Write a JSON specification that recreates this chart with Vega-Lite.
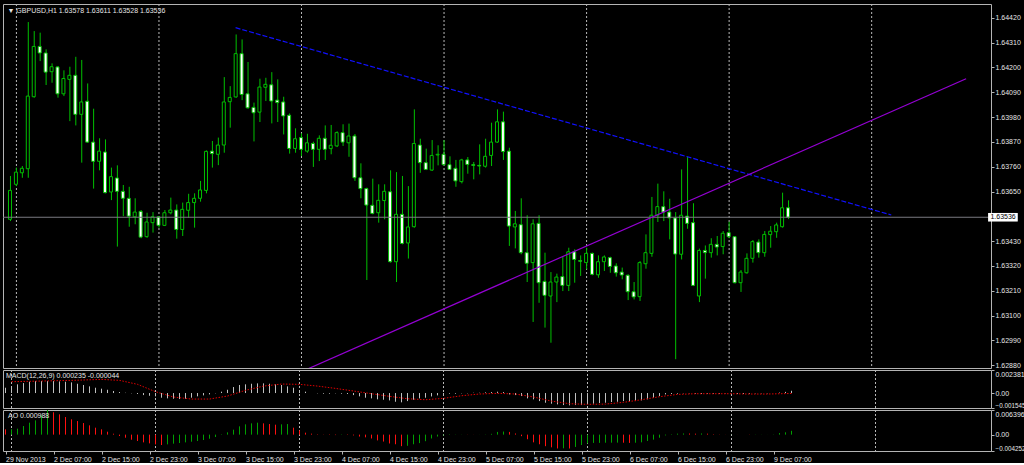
{
"$schema": "https://vega.github.io/schema/vega-lite/v6.json",
"background": "black",
"padding": {"left": 2, "top": 3, "right": 0, "bottom": 0},
"spacing": 2,
"bounds": "flush",
"config": {
  "view": {"stroke": "#b4b4b4", "strokeWidth": 1},
  "font": "Liberation Sans",
  "axis": {"labelFont": "Liberation Sans", "labelFontSize": 7, "labelColor": "#e6e6e6", "tickColor": "#b4b4b4", "tickSize": 3, "domain": false, "grid": false, "title": null, "labelPadding": 1, "labelOverlap": false, "tickCount": 40}
},
"datasets": {
  "k": [
{"i":-1,"o":1.63527,"h":1.63719,"l":1.63519,"c":1.63655},
{"i":0,"o":1.63682,"h":1.63756,"l":1.63674,"c":1.63736},
{"i":1,"o":1.63733,"h":1.63763,"l":1.63711,"c":1.63753},
{"i":2,"o":1.63751,"h":1.64401,"l":1.63711,"c":1.64073},
{"i":3,"o":1.64070,"h":1.64361,"l":1.64066,"c":1.64293},
{"i":4,"o":1.64293,"h":1.64354,"l":1.64228,"c":1.64264},
{"i":5,"o":1.64264,"h":1.64280,"l":1.64122,"c":1.64179},
{"i":6,"o":1.64181,"h":1.64218,"l":1.64132,"c":1.64203},
{"i":7,"o":1.64202,"h":1.64206,"l":1.64066,"c":1.64083},
{"i":8,"o":1.64083,"h":1.64187,"l":1.64073,"c":1.64151},
{"i":9,"o":1.64147,"h":1.64203,"l":1.63962,"c":1.64165},
{"i":10,"o":1.64165,"h":1.64247,"l":1.63943,"c":1.63992},
{"i":11,"o":1.63992,"h":1.64233,"l":1.63778,"c":1.64047},
{"i":12,"o":1.64050,"h":1.64129,"l":1.63866,"c":1.63869},
{"i":13,"o":1.63869,"h":1.64017,"l":1.63663,"c":1.63784},
{"i":14,"o":1.63784,"h":1.63886,"l":1.63744,"c":1.63829},
{"i":15,"o":1.63825,"h":1.63881,"l":1.63642,"c":1.63645},
{"i":16,"o":1.63648,"h":1.63756,"l":1.63612,"c":1.63716},
{"i":17,"o":1.63710,"h":1.63766,"l":1.63406,"c":1.63651},
{"i":18,"o":1.63651,"h":1.63679,"l":1.63541,"c":1.63620},
{"i":19,"o":1.63620,"h":1.63671,"l":1.63494,"c":1.63541},
{"i":20,"o":1.63538,"h":1.63620,"l":1.63505,"c":1.63559},
{"i":21,"o":1.63562,"h":1.63568,"l":1.63443,"c":1.63448},
{"i":22,"o":1.63450,"h":1.63556,"l":1.63445,"c":1.63515},
{"i":23,"o":1.63512,"h":1.63559,"l":1.63468,"c":1.63538},
{"i":24,"o":1.63538,"h":1.63541,"l":1.63490,"c":1.63500},
{"i":25,"o":1.63500,"h":1.63568,"l":1.63497,"c":1.63556},
{"i":26,"o":1.63556,"h":1.63623,"l":1.63549,"c":1.63568},
{"i":27,"o":1.63568,"h":1.63593,"l":1.63441,"c":1.63482},
{"i":28,"o":1.63482,"h":1.63601,"l":1.63453,"c":1.63571},
{"i":29,"o":1.63567,"h":1.63640,"l":1.63534,"c":1.63601},
{"i":30,"o":1.63601,"h":1.63642,"l":1.63490,"c":1.63620},
{"i":31,"o":1.63620,"h":1.63697,"l":1.63605,"c":1.63657},
{"i":32,"o":1.63655,"h":1.63832,"l":1.63642,"c":1.63828},
{"i":33,"o":1.63829,"h":1.63874,"l":1.63756,"c":1.63818},
{"i":34,"o":1.63815,"h":1.63889,"l":1.63767,"c":1.63856},
{"i":35,"o":1.63856,"h":1.64157,"l":1.63822,"c":1.64047},
{"i":36,"o":1.64048,"h":1.64117,"l":1.63933,"c":1.64067},
{"i":37,"o":1.64069,"h":1.64346,"l":1.64066,"c":1.64261},
{"i":38,"o":1.64261,"h":1.64324,"l":1.64055,"c":1.64080},
{"i":39,"o":1.64083,"h":1.64224,"l":1.64017,"c":1.64021},
{"i":40,"o":1.64023,"h":1.64044,"l":1.63872,"c":1.63999},
{"i":41,"o":1.64002,"h":1.64150,"l":1.63958,"c":1.64113},
{"i":42,"o":1.64112,"h":1.64154,"l":1.64051,"c":1.64125},
{"i":43,"o":1.64123,"h":1.64179,"l":1.63952,"c":1.64051},
{"i":44,"o":1.64055,"h":1.64147,"l":1.63958,"c":1.64044},
{"i":45,"o":1.64047,"h":1.64070,"l":1.63903,"c":1.63985},
{"i":46,"o":1.63988,"h":1.63996,"l":1.63818,"c":1.63841},
{"i":47,"o":1.63841,"h":1.63930,"l":1.63822,"c":1.63884},
{"i":48,"o":1.63889,"h":1.63908,"l":1.63807,"c":1.63837},
{"i":49,"o":1.63829,"h":1.63906,"l":1.63822,"c":1.63866},
{"i":50,"o":1.63863,"h":1.63871,"l":1.63759,"c":1.63837},
{"i":51,"o":1.63837,"h":1.63899,"l":1.63785,"c":1.63886},
{"i":52,"o":1.63886,"h":1.63943,"l":1.63790,"c":1.63837},
{"i":53,"o":1.63840,"h":1.63945,"l":1.63815,"c":1.63855},
{"i":54,"o":1.63852,"h":1.63917,"l":1.63847,"c":1.63911},
{"i":55,"o":1.63911,"h":1.63948,"l":1.63852,"c":1.63869},
{"i":56,"o":1.63866,"h":1.63951,"l":1.63804,"c":1.63896},
{"i":57,"o":1.63896,"h":1.63905,"l":1.63697,"c":1.63711},
{"i":58,"o":1.63711,"h":1.63775,"l":1.63620,"c":1.63663},
{"i":59,"o":1.63663,"h":1.63667,"l":1.63258,"c":1.63590},
{"i":60,"o":1.63589,"h":1.63707,"l":1.63549,"c":1.63553},
{"i":61,"o":1.63556,"h":1.63682,"l":1.63512,"c":1.63611},
{"i":62,"o":1.63610,"h":1.63682,"l":1.63527,"c":1.63651},
{"i":63,"o":1.63649,"h":1.63744,"l":1.63335,"c":1.63339},
{"i":64,"o":1.63339,"h":1.63736,"l":1.63249,"c":1.63549},
{"i":65,"o":1.63549,"h":1.63719,"l":1.63416,"c":1.63420},
{"i":66,"o":1.63422,"h":1.63674,"l":1.63353,"c":1.63493},
{"i":67,"o":1.63494,"h":1.64014,"l":1.63490,"c":1.63863},
{"i":68,"o":1.63856,"h":1.63884,"l":1.63733,"c":1.63778},
{"i":69,"o":1.63778,"h":1.63840,"l":1.63745,"c":1.63748},
{"i":70,"o":1.63745,"h":1.63878,"l":1.63741,"c":1.63810},
{"i":71,"o":1.63812,"h":1.63855,"l":1.63766,"c":1.63815},
{"i":72,"o":1.63815,"h":1.63878,"l":1.63766,"c":1.63769},
{"i":73,"o":1.63769,"h":1.63806,"l":1.63745,"c":1.63748},
{"i":74,"o":1.63753,"h":1.63790,"l":1.63671,"c":1.63697},
{"i":75,"o":1.63694,"h":1.63795,"l":1.63686,"c":1.63790},
{"i":76,"o":1.63790,"h":1.63803,"l":1.63729,"c":1.63770},
{"i":77,"o":1.63769,"h":1.63781,"l":1.63704,"c":1.63766},
{"i":78,"o":1.63766,"h":1.63859,"l":1.63726,"c":1.63763},
{"i":79,"o":1.63762,"h":1.63884,"l":1.63756,"c":1.63806},
{"i":80,"o":1.63810,"h":1.63955,"l":1.63763,"c":1.63869},
{"i":81,"o":1.63869,"h":1.64014,"l":1.63866,"c":1.63959},
{"i":82,"o":1.63959,"h":1.64004,"l":1.63790,"c":1.63827},
{"i":83,"o":1.63829,"h":1.63844,"l":1.63409,"c":1.63497},
{"i":84,"o":1.63493,"h":1.63564,"l":1.63398,"c":1.63507},
{"i":85,"o":1.63503,"h":1.63620,"l":1.63372,"c":1.63379},
{"i":86,"o":1.63379,"h":1.63545,"l":1.63249,"c":1.63332},
{"i":87,"o":1.63335,"h":1.63527,"l":1.63072,"c":1.63507},
{"i":88,"o":1.63509,"h":1.63545,"l":1.63157,"c":1.63246},
{"i":89,"o":1.63252,"h":1.63379,"l":1.63047,"c":1.63190},
{"i":90,"o":1.63187,"h":1.63293,"l":1.62980,"c":1.63249},
{"i":91,"o":1.63249,"h":1.63286,"l":1.63160,"c":1.63271},
{"i":92,"o":1.63273,"h":1.63364,"l":1.63209,"c":1.63234},
{"i":93,"o":1.63234,"h":1.63401,"l":1.63209,"c":1.63383},
{"i":94,"o":1.63383,"h":1.63394,"l":1.63246,"c":1.63349},
{"i":95,"o":1.63344,"h":1.63367,"l":1.63276,"c":1.63341},
{"i":96,"o":1.63335,"h":1.63401,"l":1.63305,"c":1.63376},
{"i":97,"o":1.63376,"h":1.63379,"l":1.63279,"c":1.63283},
{"i":98,"o":1.63281,"h":1.63367,"l":1.63268,"c":1.63339},
{"i":99,"o":1.63339,"h":1.63367,"l":1.63298,"c":1.63360},
{"i":100,"o":1.63357,"h":1.63361,"l":1.63290,"c":1.63318},
{"i":101,"o":1.63320,"h":1.63332,"l":1.63273,"c":1.63290},
{"i":102,"o":1.63293,"h":1.63313,"l":1.63261,"c":1.63280},
{"i":103,"o":1.63279,"h":1.63283,"l":1.63169,"c":1.63206},
{"i":104,"o":1.63206,"h":1.63249,"l":1.63172,"c":1.63183},
{"i":105,"o":1.63184,"h":1.63342,"l":1.63165,"c":1.63335},
{"i":106,"o":1.63330,"h":1.63460,"l":1.63308,"c":1.63379},
{"i":107,"o":1.63376,"h":1.63626,"l":1.63361,"c":1.63545},
{"i":108,"o":1.63545,"h":1.63685,"l":1.63515,"c":1.63583},
{"i":109,"o":1.63583,"h":1.63651,"l":1.63519,"c":1.63559},
{"i":110,"o":1.63559,"h":1.63618,"l":1.63438,"c":1.63533},
{"i":111,"o":1.63533,"h":1.63559,"l":1.62907,"c":1.63373},
{"i":112,"o":1.63372,"h":1.63748,"l":1.63349,"c":1.63545},
{"i":113,"o":1.63541,"h":1.63804,"l":1.63485,"c":1.63509},
{"i":114,"o":1.63512,"h":1.63598,"l":1.63231,"c":1.63234},
{"i":115,"o":1.63187,"h":1.63397,"l":1.63160,"c":1.63389},
{"i":116,"o":1.63389,"h":1.63411,"l":1.63264,"c":1.63379},
{"i":117,"o":1.63379,"h":1.63443,"l":1.63357,"c":1.63416},
{"i":118,"o":1.63416,"h":1.63453,"l":1.63367,"c":1.63404},
{"i":119,"o":1.63406,"h":1.63475,"l":1.63372,"c":1.63465},
{"i":120,"o":1.63468,"h":1.63516,"l":1.63443,"c":1.63450},
{"i":121,"o":1.63450,"h":1.63453,"l":1.63243,"c":1.63246},
{"i":122,"o":1.63246,"h":1.63302,"l":1.63205,"c":1.63293},
{"i":123,"o":1.63290,"h":1.63376,"l":1.63286,"c":1.63354},
{"i":124,"o":1.63354,"h":1.63435,"l":1.63335,"c":1.63428},
{"i":125,"o":1.63426,"h":1.63438,"l":1.63357,"c":1.63379},
{"i":126,"o":1.63379,"h":1.63475,"l":1.63361,"c":1.63460},
{"i":127,"o":1.63459,"h":1.63497,"l":1.63401,"c":1.63474},
{"i":128,"o":1.63472,"h":1.63512,"l":1.63445,"c":1.63502},
{"i":129,"o":1.63494,"h":1.63645,"l":1.63490,"c":1.63578},
{"i":130,"o":1.63578,"h":1.63611,"l":1.63528,"c":1.63536}
  ],
  "g": [{"i":0},{"i":24},{"i":48},{"i":72},{"i":96},{"i":120},{"i":144}],
  "t1": [{"i":36.9,"p":1.64376},{"i":147.3,"p":1.63546}],
  "t2": [{"i":48.2,"p":1.62854},{"i":159.9,"p":1.64150}],
  "m": [
{"i":-1,"m":0.00055},{"i":0,"m":0.00072},{"i":1,"m":0.00090},{"i":2,"m":0.00103},{"i":3,"m":0.00117},{"i":4,"m":0.00124},{"i":5,"m":0.00124},{"i":6,"m":0.00124},{"i":7,"m":0.00124},{"i":8,"m":0.00120},{"i":9,"m":0.00117},{"i":10,"m":0.00110},{"i":11,"m":0.00096},{"i":12,"m":0.00083},{"i":13,"m":0.00069},{"i":14,"m":0.00055},{"i":15,"m":0.00045},{"i":16,"m":0.00034},{"i":17,"m":0.00021},{"i":18,"m":0.00010},{"i":19,"m":0.00003},{"i":20,"m":-0.00003},{"i":21,"m":-0.00010},{"i":22,"m":-0.00021},{"i":23,"m":-0.00028},{"i":24,"m":-0.00034},{"i":25,"m":-0.00048},{"i":26,"m":-0.00055},{"i":27,"m":-0.00059},{"i":28,"m":-0.00062},{"i":29,"m":-0.00059},{"i":30,"m":-0.00048},{"i":31,"m":-0.00034},{"i":32,"m":-0.00024},{"i":33,"m":-0.00014},{"i":34,"m":-0.00003},{"i":35,"m":0.00014},{"i":36,"m":0.00034},{"i":37,"m":0.00062},{"i":38,"m":0.00083},{"i":39,"m":0.00090},{"i":40,"m":0.00096},{"i":41,"m":0.00100},{"i":42,"m":0.00100},{"i":43,"m":0.00096},{"i":44,"m":0.00090},{"i":45,"m":0.00083},{"i":46,"m":0.00069},{"i":47,"m":0.00055},{"i":48,"m":0.00028},{"i":49,"m":0.00014},{"i":50,"m":0.00000},{"i":51,"m":-0.00003},{"i":52,"m":-0.00007},{"i":53,"m":-0.00007},{"i":54,"m":-0.00003},{"i":55,"m":-0.00007},{"i":56,"m":-0.00010},{"i":57,"m":-0.00021},{"i":58,"m":-0.00034},{"i":59,"m":-0.00048},{"i":60,"m":-0.00055},{"i":61,"m":-0.00065},{"i":62,"m":-0.00069},{"i":63,"m":-0.00076},{"i":64,"m":-0.00090},{"i":65,"m":-0.00096},{"i":66,"m":-0.00083},{"i":67,"m":-0.00069},{"i":68,"m":-0.00055},{"i":69,"m":-0.00048},{"i":70,"m":-0.00035},{"i":71,"m":-0.00024},{"i":72,"m":-0.00010},{"i":73,"m":-0.00007},{"i":74,"m":-0.00007},{"i":75,"m":-0.00003},{"i":76,"m":-0.00003},{"i":77,"m":0.00003},{"i":78,"m":0.00003},{"i":79,"m":0.00007},{"i":80,"m":0.00010},{"i":81,"m":0.00014},{"i":82,"m":0.00010},{"i":83,"m":-0.00014},{"i":84,"m":-0.00021},{"i":85,"m":-0.00031},{"i":86,"m":-0.00055},{"i":87,"m":-0.00065},{"i":88,"m":-0.00083},{"i":89,"m":-0.00100},{"i":90,"m":-0.00110},{"i":91,"m":-0.00117},{"i":92,"m":-0.00124},{"i":93,"m":-0.00127},{"i":94,"m":-0.00124},{"i":95,"m":-0.00124},{"i":96,"m":-0.00117},{"i":97,"m":-0.00110},{"i":98,"m":-0.00103},{"i":99,"m":-0.00100},{"i":100,"m":-0.00093},{"i":101,"m":-0.00090},{"i":102,"m":-0.00083},{"i":103,"m":-0.00083},{"i":104,"m":-0.00083},{"i":105,"m":-0.00076},{"i":106,"m":-0.00065},{"i":107,"m":-0.00048},{"i":108,"m":-0.00031},{"i":109,"m":-0.00014},{"i":110,"m":-0.00010},{"i":111,"m":-0.00007},{"i":112,"m":-0.00003},{"i":113,"m":-0.00003},{"i":114,"m":-0.00007},{"i":115,"m":-0.00010},{"i":116,"m":-0.00007},{"i":117,"m":-0.00007},{"i":118,"m":-0.00007},{"i":119,"m":-0.00003},{"i":120,"m":-0.00003},{"i":121,"m":-0.00010},{"i":122,"m":-0.00010},{"i":123,"m":-0.00007},{"i":124,"m":-0.00003},{"i":125,"m":-0.00003},{"i":126,"m":-0.00003},{"i":127,"m":0.00000},{"i":128,"m":0.00005},{"i":129,"m":0.00012},{"i":130,"m":0.000235}
  ],
  "s": [
{"i":0,"s":0.00117},{"i":5,"s":0.00124},{"i":10,"s":0.00131},{"i":15,"s":0.00141},{"i":18,"s":0.00131},{"i":21,"s":0.00090},{"i":24,"s":0.00014},{"i":27,"s":-0.00041},{"i":30,"s":-0.00062},{"i":33,"s":-0.00062},{"i":36,"s":-0.00031},{"i":39,"s":0.00028},{"i":42,"s":0.00072},{"i":45,"s":0.00093},{"i":48,"s":0.00090},{"i":51,"s":0.00072},{"i":54,"s":0.00048},{"i":57,"s":0.00021},{"i":60,"s":-0.00007},{"i":63,"s":-0.00034},{"i":66,"s":-0.00059},{"i":69,"s":-0.00069},{"i":72,"s":-0.00055},{"i":75,"s":-0.00028},{"i":78,"s":-0.00010},{"i":81,"s":-0.00003},{"i":84,"s":-0.00010},{"i":87,"s":-0.00041},{"i":90,"s":-0.00083},{"i":93,"s":-0.00110},{"i":96,"s":-0.00117},{"i":99,"s":-0.00114},{"i":102,"s":-0.00096},{"i":105,"s":-0.00069},{"i":108,"s":-0.00038},{"i":111,"s":-0.00014},{"i":114,"s":-0.00007},{"i":117,"s":-0.00007},{"i":120,"s":-0.00007},{"i":123,"s":-0.00010},{"i":126,"s":-0.00010},{"i":130,"s":-0.000044}
  ],
  "a": [
{"i":-1,"v":0.00137,"d":"dn"},{"i":0,"v":0.00140,"d":"up"},{"i":1,"v":0.00154,"d":"up"},{"i":2,"v":0.00223,"d":"up"},{"i":3,"v":0.00310,"d":"up"},{"i":4,"v":0.00371,"d":"up"},{"i":5,"v":0.00500,"d":"up"},{"i":6,"v":0.00639,"d":"up"},{"i":7,"v":0.00580,"d":"dn"},{"i":8,"v":0.00526,"d":"dn"},{"i":9,"v":0.00457,"d":"dn"},{"i":10,"v":0.00397,"d":"dn"},{"i":11,"v":0.00353,"d":"dn"},{"i":12,"v":0.00301,"d":"dn"},{"i":13,"v":0.00241,"d":"dn"},{"i":14,"v":0.00180,"d":"dn"},{"i":15,"v":0.00137,"d":"dn"},{"i":16,"v":0.00076,"d":"dn"},{"i":17,"v":0.00024,"d":"dn"},{"i":18,"v":-0.00036,"d":"dn"},{"i":19,"v":-0.00080,"d":"dn"},{"i":20,"v":-0.00132,"d":"dn"},{"i":21,"v":-0.00166,"d":"dn"},{"i":22,"v":-0.00201,"d":"dn"},{"i":23,"v":-0.00227,"d":"dn"},{"i":24,"v":-0.00253,"d":"dn"},{"i":25,"v":-0.00270,"d":"dn"},{"i":26,"v":-0.00253,"d":"up"},{"i":27,"v":-0.00235,"d":"up"},{"i":28,"v":-0.00218,"d":"up"},{"i":29,"v":-0.00201,"d":"up"},{"i":30,"v":-0.00184,"d":"up"},{"i":31,"v":-0.00166,"d":"up"},{"i":32,"v":-0.00140,"d":"up"},{"i":33,"v":-0.00106,"d":"up"},{"i":34,"v":-0.00062,"d":"up"},{"i":35,"v":-0.00010,"d":"up"},{"i":36,"v":0.00059,"d":"up"},{"i":37,"v":0.00128,"d":"up"},{"i":38,"v":0.00215,"d":"up"},{"i":39,"v":0.00267,"d":"up"},{"i":40,"v":0.00293,"d":"up"},{"i":41,"v":0.00310,"d":"up"},{"i":42,"v":0.00293,"d":"dn"},{"i":43,"v":0.00275,"d":"dn"},{"i":44,"v":0.00258,"d":"dn"},{"i":45,"v":0.00267,"d":"up"},{"i":46,"v":0.00275,"d":"up"},{"i":47,"v":0.00180,"d":"dn"},{"i":48,"v":0.00110,"d":"dn"},{"i":49,"v":0.00050,"d":"dn"},{"i":50,"v":0.00025,"d":"dn"},{"i":51,"v":0.00010,"d":"dn"},{"i":52,"v":-0.00005,"d":"dn"},{"i":53,"v":-0.00010,"d":"dn"},{"i":54,"v":-0.00012,"d":"dn"},{"i":55,"v":-0.00008,"d":"up"},{"i":56,"v":-0.00010,"d":"dn"},{"i":57,"v":-0.00020,"d":"dn"},{"i":58,"v":-0.00050,"d":"dn"},{"i":59,"v":-0.00070,"d":"dn"},{"i":60,"v":-0.00100,"d":"dn"},{"i":61,"v":-0.00150,"d":"dn"},{"i":62,"v":-0.00180,"d":"dn"},{"i":63,"v":-0.00230,"d":"dn"},{"i":64,"v":-0.00250,"d":"dn"},{"i":65,"v":-0.00300,"d":"dn"},{"i":66,"v":-0.00290,"d":"up"},{"i":67,"v":-0.00250,"d":"up"},{"i":68,"v":-0.00220,"d":"up"},{"i":69,"v":-0.00170,"d":"up"},{"i":70,"v":-0.00100,"d":"up"},{"i":71,"v":-0.00050,"d":"up"},{"i":72,"v":-0.00020,"d":"up"},{"i":73,"v":-0.00010,"d":"up"},{"i":74,"v":-0.00005,"d":"up"},{"i":75,"v":0.00003,"d":"up"},{"i":76,"v":0.00003,"d":"dn"},{"i":77,"v":0.00002,"d":"dn"},{"i":78,"v":0.00002,"d":"up"},{"i":79,"v":0.00005,"d":"up"},{"i":80,"v":0.00020,"d":"up"},{"i":81,"v":0.00070,"d":"up"},{"i":82,"v":0.00080,"d":"up"},{"i":83,"v":0.00070,"d":"dn"},{"i":84,"v":0.00030,"d":"dn"},{"i":85,"v":-0.00040,"d":"dn"},{"i":86,"v":-0.00120,"d":"dn"},{"i":87,"v":-0.00200,"d":"dn"},{"i":88,"v":-0.00250,"d":"dn"},{"i":89,"v":-0.00300,"d":"dn"},{"i":90,"v":-0.00330,"d":"dn"},{"i":91,"v":-0.00360,"d":"dn"},{"i":92,"v":-0.00355,"d":"up"},{"i":93,"v":-0.00360,"d":"dn"},{"i":94,"v":-0.00320,"d":"up"},{"i":95,"v":-0.00270,"d":"up"},{"i":96,"v":-0.00230,"d":"up"},{"i":97,"v":-0.00215,"d":"up"},{"i":98,"v":-0.00214,"d":"up"},{"i":99,"v":-0.00210,"d":"up"},{"i":100,"v":-0.00209,"d":"up"},{"i":101,"v":-0.00208,"d":"up"},{"i":102,"v":-0.00210,"d":"dn"},{"i":103,"v":-0.00215,"d":"dn"},{"i":104,"v":-0.00210,"d":"up"},{"i":105,"v":-0.00200,"d":"up"},{"i":106,"v":-0.00165,"d":"up"},{"i":107,"v":-0.00130,"d":"up"},{"i":108,"v":-0.00080,"d":"up"},{"i":109,"v":-0.00020,"d":"up"},{"i":110,"v":0.00010,"d":"up"},{"i":111,"v":0.00025,"d":"up"},{"i":112,"v":0.00030,"d":"up"},{"i":113,"v":0.00029,"d":"dn"},{"i":114,"v":0.00025,"d":"dn"},{"i":115,"v":0.00030,"d":"up"},{"i":116,"v":0.00025,"d":"dn"},{"i":117,"v":0.00010,"d":"dn"},{"i":118,"v":0.00005,"d":"dn"},{"i":119,"v":0.00002,"d":"dn"},{"i":120,"v":0.00003,"d":"up"},{"i":121,"v":0.00001,"d":"dn"},{"i":122,"v":0.00000,"d":"dn"},{"i":123,"v":-0.00005,"d":"dn"},{"i":124,"v":-0.00004,"d":"up"},{"i":125,"v":-0.00003,"d":"up"},{"i":126,"v":0.00001,"d":"up"},{"i":127,"v":0.00005,"d":"up"},{"i":128,"v":0.00040,"d":"up"},{"i":129,"v":0.00060,"d":"up"},{"i":130,"v":0.000988,"d":"up"}
  ]
},
"vconcat": [
{
  "width": 988, "height": 364,
  "title": {"text": "▼  GBPUSD,H1  1.63578 1.63611 1.63528 1.63536", "anchor": "start", "offset": -10, "fontSize": 7, "fontWeight": "normal", "color": "#e6e6e6", "font": "Liberation Sans", "dx": 5},
  "layer": [
    {"data": {"name": "g"}, "mark": {"type": "rule", "color": "#b8b8b8", "strokeDash": [2, 2], "strokeWidth": 1},
     "encoding": {"x": {"field": "i", "type": "quantitative", "scale": {"domain": [-1.4167, 163.25], "nice": false, "zero": false}, "axis": null}}},
    {"data": {"name": "k"}, "mark": {"type": "rule", "color": "#00c000", "strokeWidth": 1},
     "encoding": {"x": {"field": "i", "type": "quantitative"},
       "y": {"field": "l", "type": "quantitative", "scale": {"domain": [1.62868, 1.64481], "nice": false, "zero": false},
         "axis": {"orient": "right", "values": [1.6288, 1.6299, 1.631, 1.6321, 1.6332, 1.6343, 1.6365, 1.6376, 1.6387, 1.6398, 1.6409, 1.642, 1.6431, 1.6442], "tickCount": 40, "format": ".5f", "labelFlush": false, "labelOverlap": false}},
       "y2": {"field": "h"}}},
    {"data": {"name": "k"}, "mark": {"type": "bar", "orient": "vertical", "size": 3, "xOffset": -0.5, "stroke": "#00c000", "strokeWidth": 1},
     "encoding": {"x": {"field": "i", "type": "quantitative"}, "y": {"field": "o", "type": "quantitative"}, "y2": {"field": "c"},
       "fill": {"condition": {"test": "datum.c < datum.o", "value": "white"}, "value": "black"}}},
    {"data": {"values": [{}]}, "mark": {"type": "rule", "color": "#7a7a80", "strokeWidth": 1},
     "encoding": {"y": {"datum": 1.63536, "type": "quantitative"}}},
    {"data": {"name": "t1"}, "mark": {"type": "line", "clip": true, "strokeWidth": 1.2, "color": "#1010ff", "strokeDash": [5, 2]},
     "encoding": {"x": {"field": "i", "type": "quantitative"}, "y": {"field": "p", "type": "quantitative"}}},
    {"data": {"name": "t2"}, "mark": {"type": "line", "clip": true, "strokeWidth": 1.2, "color": "#9400d3"},
     "encoding": {"x": {"field": "i", "type": "quantitative"}, "y": {"field": "p", "type": "quantitative"}}},
    {"data": {"values": [{}]}, "mark": {"type": "rect", "color": "white", "clip": false},
     "encoding": {"x": {"datum": 163.6}, "x2": {"datum": 168.6}, "y": {"datum": 1.63555}, "y2": {"datum": 1.63517}}},
    {"data": {"values": [{}]}, "mark": {"type": "text", "color": "black", "align": "left", "baseline": "middle", "fontSize": 7, "font": "Liberation Sans", "clip": false},
     "encoding": {"x": {"datum": 164.0}, "y": {"datum": 1.63536}, "text": {"value": "1.63536"}}}
  ]
},
{
  "width": 988, "height": 38,
  "title": {"text": "MACD(12,26,9) 0.000235 -0.000044", "anchor": "start", "offset": -9, "fontSize": 7, "fontWeight": "normal", "color": "#e6e6e6", "font": "Liberation Sans", "dx": 3},
  "layer": [
    {"data": {"name": "g"}, "mark": {"type": "rule", "color": "#b8b8b8", "strokeDash": [2, 2], "strokeWidth": 1},
     "encoding": {"x": {"field": "i", "type": "quantitative", "scale": {"domain": [-1.4167, 163.25], "nice": false, "zero": false}, "axis": null}}},
    {"data": {"name": "m"}, "mark": {"type": "rule", "color": "#c0c0c0", "strokeWidth": 1},
     "encoding": {"x": {"field": "i", "type": "quantitative"},
       "y": {"field": "m", "type": "quantitative", "scale": {"domain": [-0.001545, 0.002381], "nice": false, "zero": false},
         "axis": {"orient": "right", "values": [-0.001545, 0, 0.002381], "labelExpr": "datum.value == 0 ? '0.00' : format(datum.value, '.6f')", "labelFlush": true, "labelOverlap": false,
           "labelFontSize": {"condition": {"test": "datum.value < 0", "value": 6.3}, "value": 7}}},
       "y2": {"datum": 0}}},
    {"data": {"name": "s"}, "mark": {"type": "line", "color": "#e00000", "strokeWidth": 1, "strokeDash": [1.5, 1.5]},
     "encoding": {"x": {"field": "i", "type": "quantitative"}, "y": {"field": "s", "type": "quantitative"}}}
  ]
},
{
  "width": 988, "height": 41,
  "title": {"text": "AO 0.000988", "anchor": "start", "offset": -9, "fontSize": 7, "fontWeight": "normal", "color": "#e6e6e6", "font": "Liberation Sans", "dx": 5},
  "layer": [
    {"data": {"name": "g"}, "mark": {"type": "rule", "color": "#b8b8b8", "strokeDash": [2, 2], "strokeWidth": 1},
     "encoding": {"x": {"field": "i", "type": "quantitative", "scale": {"domain": [-1.4167, 163.25], "nice": false, "zero": false},
       "axis": {"orient": "bottom", "values": [-1, 7, 15, 23, 31, 39, 47, 55, 63, 71, 79, 87, 95, 103, 111, 119, 127],
         "labelExpr": "['29 Nov 2013','2 Dec 07:00','2 Dec 15:00','2 Dec 23:00','3 Dec 07:00','3 Dec 15:00','3 Dec 23:00','4 Dec 07:00','4 Dec 15:00','4 Dec 23:00','5 Dec 07:00','5 Dec 15:00','5 Dec 23:00','6 Dec 07:00','6 Dec 15:00','6 Dec 23:00','9 Dec 07:00'][(datum.value + 1) / 8]",
         "labelAlign": "left", "labelDx": 1, "labelPadding": 1, "labelOverlap": false, "labelFlush": false, "labelBound": false, "labelBaseline": "top"}}}},
    {"data": {"name": "a"}, "transform": [{"filter": "datum.d == 'up'"}], "mark": {"type": "rule", "strokeWidth": 1, "color": "#00a000"},
     "encoding": {"x": {"field": "i", "type": "quantitative"},
       "y": {"field": "v", "type": "quantitative", "scale": {"domain": [-0.004252, 0.006396], "nice": false, "zero": false},
         "axis": {"orient": "right", "values": [-0.004252, 0, 0.006396], "labelExpr": "datum.value == 0 ? '0.00' : format(datum.value, '.6f')", "labelFlush": true, "labelOverlap": false,
           "labelFontSize": {"condition": {"test": "datum.value < 0", "value": 6.3}, "value": 7}}},
       "y2": {"datum": 0}}},
    {"data": {"name": "a"}, "transform": [{"filter": "datum.d == 'dn'"}], "mark": {"type": "rule", "strokeWidth": 1, "color": "#ff1010"},
     "encoding": {"x": {"field": "i", "type": "quantitative"}, "y": {"field": "v", "type": "quantitative"}, "y2": {"datum": 0}}}
  ]
}
]
}
